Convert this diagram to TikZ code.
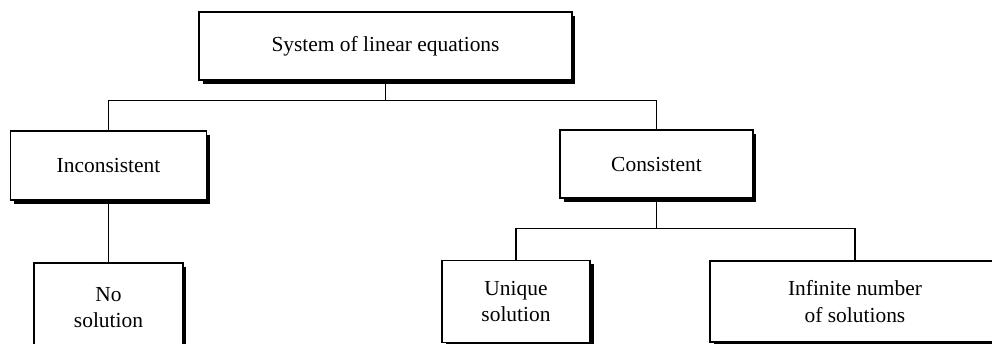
\documentclass[tikz,border=0pt]{standalone}
\usepackage{fontspec}
\setmainfont{Liberation Serif}
\usetikzlibrary{shadows}

\tikzset{
  box/.style={draw, line width=0.8pt, fill=white, align=center,
    inner sep=0pt, font=\fontsize{12.2}{15}\selectfont,
    drop shadow={shadow xshift=2pt, shadow yshift=-2pt, fill=black, opacity=1}},
  link/.style={line width=0.6pt}
}

\begin{document}
\begin{tikzpicture}[x=0.02cm, y=-0.02cm]
  % Fix the page to the reference size (pixel units)
  \useasboundingbox (0,0) rectangle (992,343);
  \clip (0,0) rectangle (992,343);

  % Top box
  \node[box, minimum width=7.46cm, minimum height=1.36cm] (sys) at (385.5,46) {System of linear equations};

  % Second level
  \node[box, minimum width=3.92cm, minimum height=1.38cm] (incons) at (108.5,165.5) {Inconsistent};
  \node[box, minimum width=3.86cm, minimum height=1.36cm] (cons) at (656.5,164) {Consistent};

  % Bottom level
  \node[box, minimum width=2.98cm, minimum height=1.78cm] (nosol) at (108.5,307.5) {No\\solution};
  \node[box, minimum width=2.96cm, minimum height=1.64cm] (unique) at (516,301.5) {Unique\\solution};
  \node[box, minimum width=5.80cm, minimum height=1.62cm] (infinite) at (855,301.5) {Infinite number\\of solutions};

  % Connectors
  \coordinate (split) at ([yshift=-0.4cm]sys.south);
  \draw[link] (sys.south) -- (split) -| (incons.north);
  \draw[link] (split) -| (cons.north);
  \draw[link] (incons.south) -- (nosol.north);
  \coordinate (split2) at ([yshift=-0.6cm]cons.south);
  \draw[link] (cons.south) -- (split2) -| (unique.north);
  \draw[link] (split2) -| (infinite.north);
\end{tikzpicture}
\end{document}
